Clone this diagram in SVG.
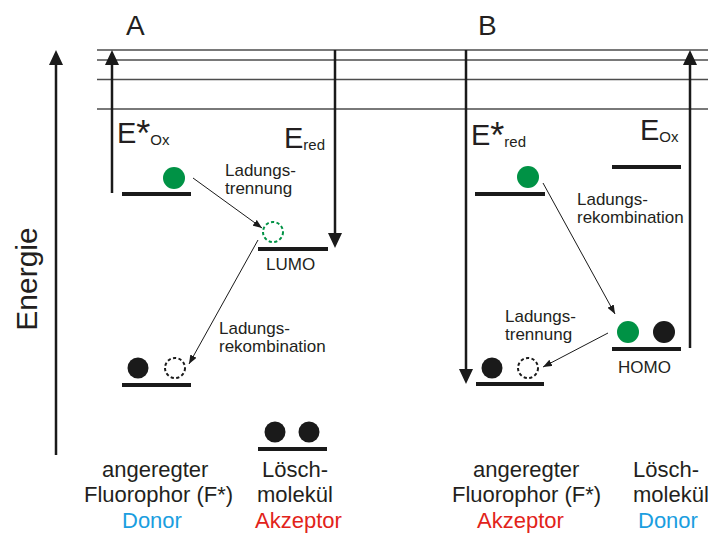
<svg xmlns="http://www.w3.org/2000/svg" width="708" height="533" viewBox="0 0 708 533">
<style>
text{font-family:"Liberation Sans",Arial,sans-serif;fill:#231f20}
.big{font-size:29px}
.star{font-size:36px}
.sub{font-size:15px}
.lbl{font-size:17px}
.name{font-size:22px}
.hl{stroke:#4d4d4d;stroke-width:1.3;fill:none}
.lvl{stroke:#1a1a1a;stroke-width:4;fill:none}
.ax{stroke:#1a1a1a;stroke-width:2.5;fill:none;marker-end:url(#bigHead)}
.thin{stroke:#1a1a1a;stroke-width:1;fill:none;marker-end:url(#smallHead)}
.e{fill:#1a1a1a}
.g{fill:#009245}
.dash{fill:none;stroke-width:2;stroke-dasharray:3.2 2.4}
.blue{fill:#1b9ee0}
.red{fill:#e2231a}
</style>
<defs>
<marker id="bigHead" viewBox="0 0 15 14" refX="11" refY="7" markerWidth="15" markerHeight="14" markerUnits="userSpaceOnUse" orient="auto">
<path d="M0,0 L15,7 L0,14 z" fill="#1a1a1a"/>
</marker>
<marker id="smallHead" viewBox="0 0 9 7" refX="9" refY="3.5" markerWidth="9" markerHeight="7" markerUnits="userSpaceOnUse" orient="auto">
<path d="M0,0 L9,3.5 L0,7 z" fill="#1a1a1a"/>
</marker>
</defs>

<g id="energy-levels-lines">
<line class="hl" x1="97" y1="50" x2="708" y2="50"/>
<line class="hl" x1="97" y1="60" x2="708" y2="60"/>
<line class="hl" x1="97" y1="79.5" x2="708" y2="79.5"/>
<line class="hl" x1="97" y1="109" x2="708" y2="109"/>
</g>

<g id="axis">
<line class="ax" x1="56" y1="455" x2="56" y2="54"/>
<text transform="translate(37,279) rotate(-90)" text-anchor="middle" style="font-size:30px">Energie</text>
</g>

<g id="titles">
<text x="126" y="35" style="font-size:28px">A</text>
<text x="478" y="35" style="font-size:28px">B</text>
</g>

<g id="connectors">
<line class="ax" x1="112" y1="193" x2="112" y2="54"/>
<line class="ax" x1="335" y1="50" x2="335" y2="244"/>
<line class="ax" x1="466" y1="50" x2="466" y2="380"/>
<line class="ax" x1="690" y1="348" x2="690" y2="54"/>
<line class="thin" x1="193" y1="178" x2="262" y2="228"/>
<line class="thin" x1="258" y1="240" x2="189" y2="364"/>
<line class="thin" x1="543" y1="183" x2="615" y2="314"/>
<line class="thin" x1="608" y1="333" x2="543" y2="367"/>
</g>

<g id="A-fluorophor-excited">
<line class="lvl" x1="122" y1="194" x2="191" y2="194"/>
<circle class="g" cx="174" cy="178" r="11"/>
<text class="big" x="117" y="143">E<tspan class="star" dy="3">*</tspan><tspan class="sub" dy="-1">Ox</tspan></text>
</g>

<g id="A-lumo">
<line class="lvl" x1="258" y1="249" x2="328" y2="249"/>
<circle class="dash" cx="273" cy="232" r="10" stroke="#009245"/>
<text class="lbl" x="266" y="270">LUMO</text>
<text class="big" x="284" y="148">E<tspan class="sub" dy="2">red</tspan></text>
</g>

<g id="A-fluorophor-ground">
<line class="lvl" x1="122" y1="385" x2="191" y2="385"/>
<circle class="e" cx="138" cy="368" r="10.5"/>
<circle class="dash" cx="175" cy="368" r="10" stroke="#1a1a1a"/>
</g>

<g id="A-quencher-ground">
<line class="lvl" x1="258" y1="449" x2="327" y2="449"/>
<circle class="e" cx="275" cy="432" r="10.5"/>
<circle class="e" cx="309" cy="432" r="10.5"/>
</g>

<g id="A-labels">
<text class="lbl" x="225" y="176">Ladungs-</text>
<text class="lbl" x="225" y="194">trennung</text>
<text class="lbl" x="219" y="334">Ladungs-</text>
<text class="lbl" x="219" y="352">rekombination</text>
</g>

<g id="B-fluorophor-excited">
<line class="lvl" x1="475" y1="194" x2="545" y2="194"/>
<circle class="g" cx="528" cy="177" r="11"/>
<text class="big" x="471" y="145">E<tspan class="star" dy="3">*</tspan><tspan class="sub" dy="-1">red</tspan></text>
</g>

<g id="B-quencher-ox">
<line class="lvl" x1="612" y1="167" x2="681" y2="167"/>
<text class="big" x="640" y="140">E<tspan class="sub" dy="2">Ox</tspan></text>
</g>

<g id="B-homo">
<line class="lvl" x1="612" y1="349" x2="681" y2="349"/>
<circle class="g" cx="628" cy="332" r="11"/>
<circle class="e" cx="664" cy="332" r="11"/>
<text class="lbl" x="618" y="373">HOMO</text>
</g>

<g id="B-fluorophor-ground">
<line class="lvl" x1="476" y1="384" x2="544" y2="384"/>
<circle class="e" cx="492" cy="368" r="10.5"/>
<circle class="dash" cx="528" cy="368" r="10" stroke="#1a1a1a"/>
</g>

<g id="B-labels">
<text class="lbl" x="577" y="205">Ladungs-</text>
<text class="lbl" x="577" y="223">rekombination</text>
<text class="lbl" x="505" y="322">Ladungs-</text>
<text class="lbl" x="505" y="340">trennung</text>
</g>

<g id="captions">
<text class="name" x="102" y="477">angeregter</text>
<text class="name" x="84" y="502">Fluorophor (F*)</text>
<text class="name blue" x="122" y="528">Donor</text>
<text class="name" x="262" y="477">Lösch-</text>
<text class="name" x="257" y="502">molekül</text>
<text class="name red" x="255" y="528">Akzeptor</text>
<text class="name" x="473" y="477">angeregter</text>
<text class="name" x="452" y="502">Fluorophor (F*)</text>
<text class="name red" x="477" y="528">Akzeptor</text>
<text class="name" x="633" y="477">Lösch-</text>
<text class="name" x="633" y="502">molekül</text>
<text class="name blue" x="638" y="528">Donor</text>
</g>
</svg>
